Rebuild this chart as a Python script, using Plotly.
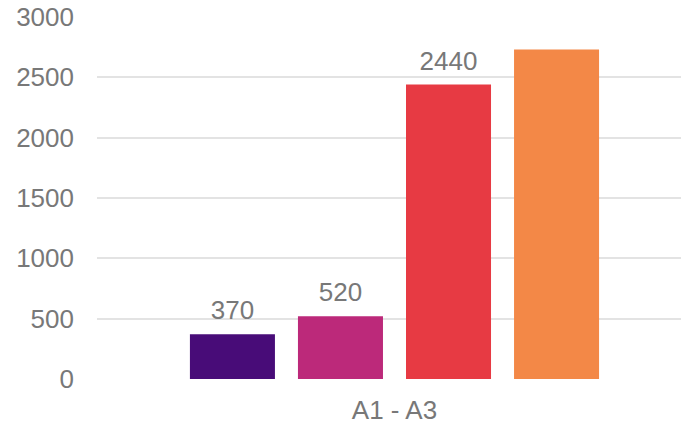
import plotly.graph_objects as go

categories = ["A1 - A3"]
series_names = ["S1", "S2", "S3", "S4"]
series_values = [370, 520, 2440, 2730]
series_labels = ["370", "520", "2440", ""]
colors = ["#480C78", "#BC297A", "#E73A43", "#F38847"]
y_ticks = [0, 500, 1000, 1500, 2000, 2500, 3000]

FONT = "Liberation Sans, Arial, sans-serif"
GREY = "#787878"
FS = 26

fig = go.Figure()
for name, v, c in zip(series_names, series_values, colors):
    fig.add_trace(go.Bar(x=categories, y=[v], name=name, marker=dict(color=c, line=dict(width=0)),
                         showlegend=False, hoverinfo="skip"))
for name, v, t in zip(series_names, series_values, series_labels):
    fig.add_trace(go.Scatter(x=categories, y=[v], text=[t], mode="markers+text",
                             textposition="top center",
                             marker=dict(size=12, opacity=0),
                             textfont=dict(family=FONT, size=FS, color=GREY),
                             showlegend=False, hoverinfo="skip", cliponaxis=False))

fig.update_layout(
    width=681, height=425,
    margin=dict(l=97, r=0, t=17, b=43),
    paper_bgcolor="white", plot_bgcolor="white",
    barmode="group", bargap=0.26, bargroupgap=0.213,
    scattermode="group", scattergap=0.26,
    font=dict(family=FONT, size=FS, color=GREY),
)
fig.update_xaxes(type="category", range=[-0.5094, 0.4906], showgrid=False, zeroline=False,
                 showline=False, ticks="", ticklabelstandoff=13,
                 tickfont=dict(family=FONT, size=FS, color=GREY))
fig.update_yaxes(range=[0, 3000], tickvals=y_ticks, showgrid=True, gridcolor="#e3e3e3", gridwidth=1.6,
                 zeroline=False, showline=False, ticks="", ticklabelstandoff=22,
                 tickfont=dict(family=FONT, size=FS, color=GREY))

fig.write_html("out.html")
